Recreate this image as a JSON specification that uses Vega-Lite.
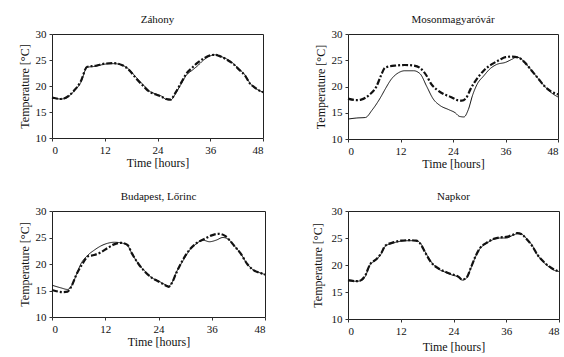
{
  "$schema": "https://vega.github.io/schema/vega-lite/v6.json",
  "background": "white",
  "padding": {"left": 17, "top": 13, "right": 2, "bottom": 2},
  "datasets": {
    "d": [
      {"station":"Záhony","series":"measured","hour":0,"temp":17.7},
      {"station":"Záhony","series":"measured","hour":2,"temp":17.5},
      {"station":"Záhony","series":"measured","hour":3,"temp":17.6},
      {"station":"Záhony","series":"measured","hour":5,"temp":19.0},
      {"station":"Záhony","series":"measured","hour":6.5,"temp":20.6},
      {"station":"Záhony","series":"measured","hour":8,"temp":23.6},
      {"station":"Záhony","series":"measured","hour":10,"temp":23.8},
      {"station":"Záhony","series":"measured","hour":12,"temp":24.2},
      {"station":"Záhony","series":"measured","hour":14,"temp":24.3},
      {"station":"Záhony","series":"measured","hour":16,"temp":24.0},
      {"station":"Záhony","series":"measured","hour":17.5,"temp":23.2},
      {"station":"Záhony","series":"measured","hour":19,"temp":21.8},
      {"station":"Záhony","series":"measured","hour":21,"temp":20.0},
      {"station":"Záhony","series":"measured","hour":22,"temp":19.1},
      {"station":"Záhony","series":"measured","hour":23.5,"temp":18.5},
      {"station":"Záhony","series":"measured","hour":25,"temp":18.0},
      {"station":"Záhony","series":"measured","hour":26,"temp":17.4},
      {"station":"Záhony","series":"measured","hour":27,"temp":17.3},
      {"station":"Záhony","series":"measured","hour":28,"temp":18.4},
      {"station":"Záhony","series":"measured","hour":29.5,"temp":20.6},
      {"station":"Záhony","series":"measured","hour":30.5,"temp":22.0},
      {"station":"Záhony","series":"measured","hour":32,"temp":23.1},
      {"station":"Záhony","series":"measured","hour":33,"temp":23.8},
      {"station":"Záhony","series":"measured","hour":34.5,"temp":25.0},
      {"station":"Záhony","series":"measured","hour":36,"temp":25.8},
      {"station":"Záhony","series":"measured","hour":37,"temp":26.0},
      {"station":"Záhony","series":"measured","hour":38,"temp":25.8},
      {"station":"Záhony","series":"measured","hour":39.5,"temp":25.3},
      {"station":"Záhony","series":"measured","hour":41,"temp":24.5},
      {"station":"Záhony","series":"measured","hour":42.5,"temp":23.3},
      {"station":"Záhony","series":"measured","hour":44,"temp":22.0},
      {"station":"Záhony","series":"measured","hour":45,"temp":20.6},
      {"station":"Záhony","series":"measured","hour":46,"temp":19.7},
      {"station":"Záhony","series":"measured","hour":47,"temp":19.2},
      {"station":"Záhony","series":"measured","hour":48,"temp":18.8},

      {"station":"Záhony","series":"model","hour":0,"temp":17.8},
      {"station":"Záhony","series":"model","hour":2,"temp":17.5},
      {"station":"Záhony","series":"model","hour":3,"temp":17.7},
      {"station":"Záhony","series":"model","hour":5,"temp":19.1},
      {"station":"Záhony","series":"model","hour":6.5,"temp":20.8},
      {"station":"Záhony","series":"model","hour":8,"temp":23.7},
      {"station":"Záhony","series":"model","hour":10,"temp":23.9},
      {"station":"Záhony","series":"model","hour":12,"temp":24.3},
      {"station":"Záhony","series":"model","hour":14,"temp":24.4},
      {"station":"Záhony","series":"model","hour":16,"temp":24.0},
      {"station":"Záhony","series":"model","hour":17.5,"temp":23.1},
      {"station":"Záhony","series":"model","hour":19,"temp":21.6},
      {"station":"Záhony","series":"model","hour":21,"temp":19.8},
      {"station":"Záhony","series":"model","hour":22,"temp":19.0},
      {"station":"Záhony","series":"model","hour":23.5,"temp":18.4},
      {"station":"Záhony","series":"model","hour":25,"temp":17.9},
      {"station":"Záhony","series":"model","hour":26,"temp":17.5},
      {"station":"Záhony","series":"model","hour":27,"temp":17.4},
      {"station":"Záhony","series":"model","hour":28,"temp":18.6},
      {"station":"Záhony","series":"model","hour":29.5,"temp":20.8},
      {"station":"Záhony","series":"model","hour":30.5,"temp":22.3},
      {"station":"Záhony","series":"model","hour":32,"temp":23.6},
      {"station":"Záhony","series":"model","hour":33,"temp":24.4},
      {"station":"Záhony","series":"model","hour":34.5,"temp":25.3},
      {"station":"Záhony","series":"model","hour":36,"temp":25.9},
      {"station":"Záhony","series":"model","hour":37,"temp":26.0},
      {"station":"Záhony","series":"model","hour":38,"temp":25.8},
      {"station":"Záhony","series":"model","hour":39.5,"temp":25.2},
      {"station":"Záhony","series":"model","hour":41,"temp":24.4},
      {"station":"Záhony","series":"model","hour":42.5,"temp":23.2},
      {"station":"Záhony","series":"model","hour":44,"temp":21.9},
      {"station":"Záhony","series":"model","hour":45,"temp":20.5},
      {"station":"Záhony","series":"model","hour":46,"temp":19.8},
      {"station":"Záhony","series":"model","hour":47,"temp":19.2},
      {"station":"Záhony","series":"model","hour":48,"temp":18.8},

      {"station":"Mosonmagyaróvár","series":"measured","hour":0,"temp":13.8},
      {"station":"Mosonmagyaróvár","series":"measured","hour":2,"temp":14.0},
      {"station":"Mosonmagyaróvár","series":"measured","hour":4,"temp":14.1},
      {"station":"Mosonmagyaróvár","series":"measured","hour":5.5,"temp":15.5},
      {"station":"Mosonmagyaróvár","series":"measured","hour":7.5,"temp":18.0},
      {"station":"Mosonmagyaróvár","series":"measured","hour":8.5,"temp":19.5},
      {"station":"Mosonmagyaróvár","series":"measured","hour":10,"temp":21.5},
      {"station":"Mosonmagyaróvár","series":"measured","hour":11.5,"temp":22.6},
      {"station":"Mosonmagyaróvár","series":"measured","hour":13,"temp":23.0},
      {"station":"Mosonmagyaróvár","series":"measured","hour":15,"temp":23.0},
      {"station":"Mosonmagyaróvár","series":"measured","hour":16.5,"temp":22.4},
      {"station":"Mosonmagyaróvár","series":"measured","hour":18,"temp":20.0},
      {"station":"Mosonmagyaróvár","series":"measured","hour":19.5,"temp":17.6},
      {"station":"Mosonmagyaróvár","series":"measured","hour":21,"temp":16.4},
      {"station":"Mosonmagyaróvár","series":"measured","hour":23,"temp":15.6},
      {"station":"Mosonmagyaróvár","series":"measured","hour":24.5,"temp":15.0},
      {"station":"Mosonmagyaróvár","series":"measured","hour":25.5,"temp":14.3},
      {"station":"Mosonmagyaróvár","series":"measured","hour":26.5,"temp":14.2},
      {"station":"Mosonmagyaróvár","series":"measured","hour":27.5,"temp":15.6},
      {"station":"Mosonmagyaróvár","series":"measured","hour":28.5,"temp":18.4},
      {"station":"Mosonmagyaróvár","series":"measured","hour":29.5,"temp":20.4},
      {"station":"Mosonmagyaróvár","series":"measured","hour":31,"temp":22.0},
      {"station":"Mosonmagyaróvár","series":"measured","hour":32.5,"temp":23.4},
      {"station":"Mosonmagyaróvár","series":"measured","hour":34,"temp":24.2},
      {"station":"Mosonmagyaróvár","series":"measured","hour":36,"temp":24.6},
      {"station":"Mosonmagyaróvár","series":"measured","hour":37.5,"temp":25.2},
      {"station":"Mosonmagyaróvár","series":"measured","hour":38.5,"temp":25.6},
      {"station":"Mosonmagyaróvár","series":"measured","hour":39.5,"temp":25.3},
      {"station":"Mosonmagyaróvár","series":"measured","hour":40.5,"temp":24.5},
      {"station":"Mosonmagyaróvár","series":"measured","hour":42,"temp":23.0},
      {"station":"Mosonmagyaróvár","series":"measured","hour":43.5,"temp":21.5},
      {"station":"Mosonmagyaróvár","series":"measured","hour":45,"temp":20.0},
      {"station":"Mosonmagyaróvár","series":"measured","hour":46.5,"temp":18.8},
      {"station":"Mosonmagyaróvár","series":"measured","hour":48,"temp":18.0},

      {"station":"Mosonmagyaróvár","series":"model","hour":0,"temp":17.7},
      {"station":"Mosonmagyaróvár","series":"model","hour":2,"temp":17.4},
      {"station":"Mosonmagyaróvár","series":"model","hour":3,"temp":17.5},
      {"station":"Mosonmagyaróvár","series":"model","hour":5,"temp":18.5},
      {"station":"Mosonmagyaróvár","series":"model","hour":6.5,"temp":20.0},
      {"station":"Mosonmagyaróvár","series":"model","hour":7.5,"temp":22.0},
      {"station":"Mosonmagyaróvár","series":"model","hour":8.5,"temp":23.6},
      {"station":"Mosonmagyaróvár","series":"model","hour":11,"temp":24.0},
      {"station":"Mosonmagyaróvár","series":"model","hour":13,"temp":24.1},
      {"station":"Mosonmagyaróvár","series":"model","hour":15,"temp":24.0},
      {"station":"Mosonmagyaróvár","series":"model","hour":16.5,"temp":23.5},
      {"station":"Mosonmagyaróvár","series":"model","hour":18,"temp":22.0},
      {"station":"Mosonmagyaróvár","series":"model","hour":19,"temp":20.5},
      {"station":"Mosonmagyaróvár","series":"model","hour":20.5,"temp":19.3},
      {"station":"Mosonmagyaróvár","series":"model","hour":22,"temp":18.5},
      {"station":"Mosonmagyaróvár","series":"model","hour":23.5,"temp":18.0},
      {"station":"Mosonmagyaróvár","series":"model","hour":25,"temp":17.4},
      {"station":"Mosonmagyaróvár","series":"model","hour":26,"temp":17.3},
      {"station":"Mosonmagyaróvár","series":"model","hour":27,"temp":17.8},
      {"station":"Mosonmagyaróvár","series":"model","hour":28,"temp":19.5},
      {"station":"Mosonmagyaróvár","series":"model","hour":29.5,"temp":21.5},
      {"station":"Mosonmagyaróvár","series":"model","hour":31,"temp":23.0},
      {"station":"Mosonmagyaróvár","series":"model","hour":33,"temp":24.3},
      {"station":"Mosonmagyaróvár","series":"model","hour":34.5,"temp":25.0},
      {"station":"Mosonmagyaróvár","series":"model","hour":36,"temp":25.6},
      {"station":"Mosonmagyaróvár","series":"model","hour":37.5,"temp":25.7},
      {"station":"Mosonmagyaróvár","series":"model","hour":39,"temp":25.5},
      {"station":"Mosonmagyaróvár","series":"model","hour":40.5,"temp":24.5},
      {"station":"Mosonmagyaróvár","series":"model","hour":42,"temp":23.0},
      {"station":"Mosonmagyaróvár","series":"model","hour":43.5,"temp":21.5},
      {"station":"Mosonmagyaróvár","series":"model","hour":45,"temp":20.0},
      {"station":"Mosonmagyaróvár","series":"model","hour":46.5,"temp":19.0},
      {"station":"Mosonmagyaróvár","series":"model","hour":48,"temp":18.5},

      {"station":"Budapest, Lőrinc","series":"measured","hour":0,"temp":16.0},
      {"station":"Budapest, Lőrinc","series":"measured","hour":2,"temp":15.5},
      {"station":"Budapest, Lőrinc","series":"measured","hour":3.5,"temp":15.2},
      {"station":"Budapest, Lőrinc","series":"measured","hour":4.5,"temp":16.0},
      {"station":"Budapest, Lőrinc","series":"measured","hour":5.5,"temp":18.0},
      {"station":"Budapest, Lőrinc","series":"measured","hour":6.5,"temp":20.0},
      {"station":"Budapest, Lőrinc","series":"measured","hour":8,"temp":21.6},
      {"station":"Budapest, Lőrinc","series":"measured","hour":9.5,"temp":22.6},
      {"station":"Budapest, Lőrinc","series":"measured","hour":11,"temp":23.4},
      {"station":"Budapest, Lőrinc","series":"measured","hour":12.5,"temp":23.9},
      {"station":"Budapest, Lőrinc","series":"measured","hour":14,"temp":24.1},
      {"station":"Budapest, Lőrinc","series":"measured","hour":15.5,"temp":24.0},
      {"station":"Budapest, Lőrinc","series":"measured","hour":17,"temp":23.5},
      {"station":"Budapest, Lőrinc","series":"measured","hour":18,"temp":22.0},
      {"station":"Budapest, Lőrinc","series":"measured","hour":19.5,"temp":20.0},
      {"station":"Budapest, Lőrinc","series":"measured","hour":21,"temp":18.6},
      {"station":"Budapest, Lőrinc","series":"measured","hour":22.5,"temp":17.4},
      {"station":"Budapest, Lőrinc","series":"measured","hour":24,"temp":16.8},
      {"station":"Budapest, Lőrinc","series":"measured","hour":25.5,"temp":16.1},
      {"station":"Budapest, Lőrinc","series":"measured","hour":26.3,"temp":15.8},
      {"station":"Budapest, Lőrinc","series":"measured","hour":27,"temp":16.4},
      {"station":"Budapest, Lőrinc","series":"measured","hour":28,"temp":18.4},
      {"station":"Budapest, Lőrinc","series":"measured","hour":29.5,"temp":20.6},
      {"station":"Budapest, Lőrinc","series":"measured","hour":31,"temp":22.6},
      {"station":"Budapest, Lőrinc","series":"measured","hour":32.5,"temp":23.8},
      {"station":"Budapest, Lőrinc","series":"measured","hour":34,"temp":24.5},
      {"station":"Budapest, Lőrinc","series":"measured","hour":35.5,"temp":24.2},
      {"station":"Budapest, Lőrinc","series":"measured","hour":37,"temp":24.5},
      {"station":"Budapest, Lőrinc","series":"measured","hour":38.5,"temp":25.0},
      {"station":"Budapest, Lőrinc","series":"measured","hour":39.5,"temp":24.8},
      {"station":"Budapest, Lőrinc","series":"measured","hour":41,"temp":23.5},
      {"station":"Budapest, Lőrinc","series":"measured","hour":42.5,"temp":22.0},
      {"station":"Budapest, Lőrinc","series":"measured","hour":44,"temp":20.0},
      {"station":"Budapest, Lőrinc","series":"measured","hour":45.5,"temp":18.8},
      {"station":"Budapest, Lőrinc","series":"measured","hour":47,"temp":18.3},
      {"station":"Budapest, Lőrinc","series":"measured","hour":48,"temp":18.0},

      {"station":"Budapest, Lőrinc","series":"model","hour":0,"temp":15.1},
      {"station":"Budapest, Lőrinc","series":"model","hour":2.5,"temp":14.7},
      {"station":"Budapest, Lőrinc","series":"model","hour":3.5,"temp":14.8},
      {"station":"Budapest, Lőrinc","series":"model","hour":4.5,"temp":16.0},
      {"station":"Budapest, Lőrinc","series":"model","hour":5.5,"temp":18.0},
      {"station":"Budapest, Lőrinc","series":"model","hour":7,"temp":20.2},
      {"station":"Budapest, Lőrinc","series":"model","hour":8,"temp":21.4},
      {"station":"Budapest, Lőrinc","series":"model","hour":9.5,"temp":21.7},
      {"station":"Budapest, Lőrinc","series":"model","hour":11,"temp":22.2},
      {"station":"Budapest, Lőrinc","series":"model","hour":12.5,"temp":23.0},
      {"station":"Budapest, Lőrinc","series":"model","hour":14,"temp":23.7},
      {"station":"Budapest, Lőrinc","series":"model","hour":15.5,"temp":24.0},
      {"station":"Budapest, Lőrinc","series":"model","hour":17,"temp":23.6},
      {"station":"Budapest, Lőrinc","series":"model","hour":18,"temp":22.0},
      {"station":"Budapest, Lőrinc","series":"model","hour":19.5,"temp":20.0},
      {"station":"Budapest, Lőrinc","series":"model","hour":21,"temp":18.5},
      {"station":"Budapest, Lőrinc","series":"model","hour":22.5,"temp":17.4},
      {"station":"Budapest, Lőrinc","series":"model","hour":24,"temp":16.7},
      {"station":"Budapest, Lőrinc","series":"model","hour":25.5,"temp":16.0},
      {"station":"Budapest, Lőrinc","series":"model","hour":26.3,"temp":15.7},
      {"station":"Budapest, Lőrinc","series":"model","hour":27,"temp":16.4},
      {"station":"Budapest, Lőrinc","series":"model","hour":28,"temp":18.3},
      {"station":"Budapest, Lőrinc","series":"model","hour":29.5,"temp":20.8},
      {"station":"Budapest, Lőrinc","series":"model","hour":31,"temp":22.7},
      {"station":"Budapest, Lőrinc","series":"model","hour":32.5,"temp":23.9},
      {"station":"Budapest, Lőrinc","series":"model","hour":34.5,"temp":24.8},
      {"station":"Budapest, Lőrinc","series":"model","hour":36,"temp":25.4},
      {"station":"Budapest, Lőrinc","series":"model","hour":37.5,"temp":25.7},
      {"station":"Budapest, Lőrinc","series":"model","hour":39,"temp":25.3},
      {"station":"Budapest, Lőrinc","series":"model","hour":40,"temp":24.5},
      {"station":"Budapest, Lőrinc","series":"model","hour":41,"temp":23.5},
      {"station":"Budapest, Lőrinc","series":"model","hour":42.5,"temp":22.0},
      {"station":"Budapest, Lőrinc","series":"model","hour":44,"temp":20.0},
      {"station":"Budapest, Lőrinc","series":"model","hour":45.5,"temp":18.8},
      {"station":"Budapest, Lőrinc","series":"model","hour":47,"temp":18.3},
      {"station":"Budapest, Lőrinc","series":"model","hour":48,"temp":18.0},

      {"station":"Napkor","series":"measured","hour":0,"temp":17.1},
      {"station":"Napkor","series":"measured","hour":2,"temp":17.0},
      {"station":"Napkor","series":"measured","hour":3,"temp":17.1},
      {"station":"Napkor","series":"measured","hour":4,"temp":18.0},
      {"station":"Napkor","series":"measured","hour":5,"temp":20.0},
      {"station":"Napkor","series":"measured","hour":6.5,"temp":21.0},
      {"station":"Napkor","series":"measured","hour":7.5,"temp":22.0},
      {"station":"Napkor","series":"measured","hour":8.5,"temp":23.5},
      {"station":"Napkor","series":"measured","hour":10,"temp":24.0},
      {"station":"Napkor","series":"measured","hour":12,"temp":24.4},
      {"station":"Napkor","series":"measured","hour":14,"temp":24.5},
      {"station":"Napkor","series":"measured","hour":15.5,"temp":24.5},
      {"station":"Napkor","series":"measured","hour":16.5,"temp":24.0},
      {"station":"Napkor","series":"measured","hour":17.5,"temp":22.5},
      {"station":"Napkor","series":"measured","hour":19,"temp":20.5},
      {"station":"Napkor","series":"measured","hour":20.5,"temp":19.3},
      {"station":"Napkor","series":"measured","hour":22,"temp":18.7},
      {"station":"Napkor","series":"measured","hour":23.5,"temp":18.2},
      {"station":"Napkor","series":"measured","hour":25,"temp":17.8},
      {"station":"Napkor","series":"measured","hour":26,"temp":17.2},
      {"station":"Napkor","series":"measured","hour":27,"temp":17.6},
      {"station":"Napkor","series":"measured","hour":28,"temp":19.5},
      {"station":"Napkor","series":"measured","hour":29,"temp":21.5},
      {"station":"Napkor","series":"measured","hour":30,"temp":23.0},
      {"station":"Napkor","series":"measured","hour":31.5,"temp":24.0},
      {"station":"Napkor","series":"measured","hour":33,"temp":24.7},
      {"station":"Napkor","series":"measured","hour":34.5,"temp":25.0},
      {"station":"Napkor","series":"measured","hour":36,"temp":25.0},
      {"station":"Napkor","series":"measured","hour":37.5,"temp":25.5},
      {"station":"Napkor","series":"measured","hour":38.5,"temp":25.8},
      {"station":"Napkor","series":"measured","hour":39.5,"temp":25.7},
      {"station":"Napkor","series":"measured","hour":40.5,"temp":25.0},
      {"station":"Napkor","series":"measured","hour":42,"temp":23.5},
      {"station":"Napkor","series":"measured","hour":43,"temp":22.0},
      {"station":"Napkor","series":"measured","hour":44.5,"temp":20.5},
      {"station":"Napkor","series":"measured","hour":46,"temp":19.5},
      {"station":"Napkor","series":"measured","hour":47,"temp":19.0},
      {"station":"Napkor","series":"measured","hour":48,"temp":18.8},

      {"station":"Napkor","series":"model","hour":0,"temp":17.2},
      {"station":"Napkor","series":"model","hour":2,"temp":17.0},
      {"station":"Napkor","series":"model","hour":3,"temp":17.2},
      {"station":"Napkor","series":"model","hour":4,"temp":18.2},
      {"station":"Napkor","series":"model","hour":5,"temp":20.1},
      {"station":"Napkor","series":"model","hour":6.5,"temp":21.1},
      {"station":"Napkor","series":"model","hour":7.5,"temp":22.1},
      {"station":"Napkor","series":"model","hour":8.5,"temp":23.6},
      {"station":"Napkor","series":"model","hour":10,"temp":24.1},
      {"station":"Napkor","series":"model","hour":12,"temp":24.5},
      {"station":"Napkor","series":"model","hour":14,"temp":24.6},
      {"station":"Napkor","series":"model","hour":15.5,"temp":24.5},
      {"station":"Napkor","series":"model","hour":16.5,"temp":23.9},
      {"station":"Napkor","series":"model","hour":17.5,"temp":22.4},
      {"station":"Napkor","series":"model","hour":19,"temp":20.4},
      {"station":"Napkor","series":"model","hour":20.5,"temp":19.4},
      {"station":"Napkor","series":"model","hour":22,"temp":18.8},
      {"station":"Napkor","series":"model","hour":23.5,"temp":18.3},
      {"station":"Napkor","series":"model","hour":25,"temp":17.9},
      {"station":"Napkor","series":"model","hour":26,"temp":17.3},
      {"station":"Napkor","series":"model","hour":27,"temp":17.7},
      {"station":"Napkor","series":"model","hour":28,"temp":19.6},
      {"station":"Napkor","series":"model","hour":29,"temp":21.6},
      {"station":"Napkor","series":"model","hour":30,"temp":23.1},
      {"station":"Napkor","series":"model","hour":31.5,"temp":24.1},
      {"station":"Napkor","series":"model","hour":33,"temp":24.8},
      {"station":"Napkor","series":"model","hour":34.5,"temp":25.1},
      {"station":"Napkor","series":"model","hour":36,"temp":25.2},
      {"station":"Napkor","series":"model","hour":37.5,"temp":25.6},
      {"station":"Napkor","series":"model","hour":38.5,"temp":25.9},
      {"station":"Napkor","series":"model","hour":39.5,"temp":25.7},
      {"station":"Napkor","series":"model","hour":40.5,"temp":24.9},
      {"station":"Napkor","series":"model","hour":42,"temp":23.4},
      {"station":"Napkor","series":"model","hour":43,"temp":22.0},
      {"station":"Napkor","series":"model","hour":44.5,"temp":20.6},
      {"station":"Napkor","series":"model","hour":46,"temp":19.6},
      {"station":"Napkor","series":"model","hour":47,"temp":19.1},
      {"station":"Napkor","series":"model","hour":48,"temp":18.8}
    ]
  },
  "data": {"name": "d"},
  "columns": 2,
  "spacing": {"column": 40, "row": 20},
  "concat": [
    {
      "title": "Záhony",
      "width": 211, "height": 104,
      "transform": [{"filter": "datum.station === 'Záhony'"}],
      "mark": {"type": "line", "interpolate": "monotone", "color": "#111"},
      "encoding": {
        "x": {"field": "hour", "type": "quantitative", "scale": {"domain": [0, 48], "nice": false}, "axis": {"values": [0, 12, 24, 36, 48], "title": "Time [hours]"}},
        "y": {"field": "temp", "type": "quantitative", "scale": {"domain": [10, 30], "nice": false, "zero": false}, "axis": {"values": [10, 15, 20, 25, 30], "title": "Temperature [°C]"}},
        "detail": {"field": "series"},
        "strokeDash": {"field": "series", "type": "nominal", "scale": {"domain": ["measured", "model"], "range": [[1, 0], [6, 2, 2, 2]]}, "legend": null},
        "strokeWidth": {"field": "series", "type": "nominal", "scale": {"domain": ["measured", "model"], "range": [1, 2.2]}, "legend": null}
      }
    },
    {
      "title": "Mosonmagyaróvár",
      "width": 210, "height": 105,
      "transform": [{"filter": "datum.station === 'Mosonmagyaróvár'"}],
      "mark": {"type": "line", "interpolate": "monotone", "color": "#111"},
      "encoding": {
        "x": {"field": "hour", "type": "quantitative", "scale": {"domain": [0, 48], "nice": false}, "axis": {"values": [0, 12, 24, 36, 48], "title": "Time [hours]"}},
        "y": {"field": "temp", "type": "quantitative", "scale": {"domain": [10, 30], "nice": false, "zero": false}, "axis": {"values": [10, 15, 20, 25, 30], "title": "Temperature [°C]"}},
        "detail": {"field": "series"},
        "strokeDash": {"field": "series", "type": "nominal", "scale": {"domain": ["measured", "model"], "range": [[1, 0], [6, 2, 2, 2]]}, "legend": null},
        "strokeWidth": {"field": "series", "type": "nominal", "scale": {"domain": ["measured", "model"], "range": [1, 2.2]}, "legend": null}
      }
    },
    {
      "title": "Budapest, Lőrinc",
      "width": 213, "height": 106,
      "transform": [{"filter": "datum.station === 'Budapest, Lőrinc'"}],
      "mark": {"type": "line", "interpolate": "monotone", "color": "#111"},
      "encoding": {
        "x": {"field": "hour", "type": "quantitative", "scale": {"domain": [0, 48], "nice": false}, "axis": {"values": [0, 12, 24, 36, 48], "title": "Time [hours]", "titlePadding": 2}},
        "y": {"field": "temp", "type": "quantitative", "scale": {"domain": [10, 30], "nice": false, "zero": false}, "axis": {"values": [10, 15, 20, 25, 30], "title": "Temperature [°C]"}},
        "detail": {"field": "series"},
        "strokeDash": {"field": "series", "type": "nominal", "scale": {"domain": ["measured", "model"], "range": [[1, 0], [6, 2, 2, 2]]}, "legend": null},
        "strokeWidth": {"field": "series", "type": "nominal", "scale": {"domain": ["measured", "model"], "range": [1, 2.2]}, "legend": null}
      }
    },
    {
      "title": "Napkor",
      "width": 211, "height": 108,
      "transform": [{"filter": "datum.station === 'Napkor'"}],
      "mark": {"type": "line", "interpolate": "monotone", "color": "#111"},
      "encoding": {
        "x": {"field": "hour", "type": "quantitative", "scale": {"domain": [0, 48], "nice": false}, "axis": {"values": [0, 12, 24, 36, 48], "title": "Time [hours]", "titlePadding": 5}},
        "y": {"field": "temp", "type": "quantitative", "scale": {"domain": [10, 30], "nice": false, "zero": false}, "axis": {"values": [10, 15, 20, 25, 30], "title": "Temperature [°C]", "titlePadding": 7}},
        "detail": {"field": "series"},
        "strokeDash": {"field": "series", "type": "nominal", "scale": {"domain": ["measured", "model"], "range": [[1, 0], [6, 2, 2, 2]]}, "legend": null},
        "strokeWidth": {"field": "series", "type": "nominal", "scale": {"domain": ["measured", "model"], "range": [1, 2.2]}, "legend": null}
      }
    }
  ],
  "config": {
    "font": "Liberation Serif",
    "view": {"stroke": "#222", "strokeWidth": 1},
    "title": {"font": "Liberation Serif", "fontSize": 11, "fontWeight": "normal", "color": "#111", "offset": 3},
    "axis": {
      "titleFont": "Liberation Serif",
      "titleFontWeight": "normal",
      "titleFontSize": 12,
      "titleColor": "#111",
      "titlePadding": 2,
      "labelFont": "Liberation Serif",
      "labelFontSize": 11,
      "labelColor": "#111",
      "labelPadding": 3,
      "tickSize": 3,
      "tickColor": "#333",
      "domain": false,
      "grid": false
    },
    "axisY": {"titlePadding": 4}
  }
}
